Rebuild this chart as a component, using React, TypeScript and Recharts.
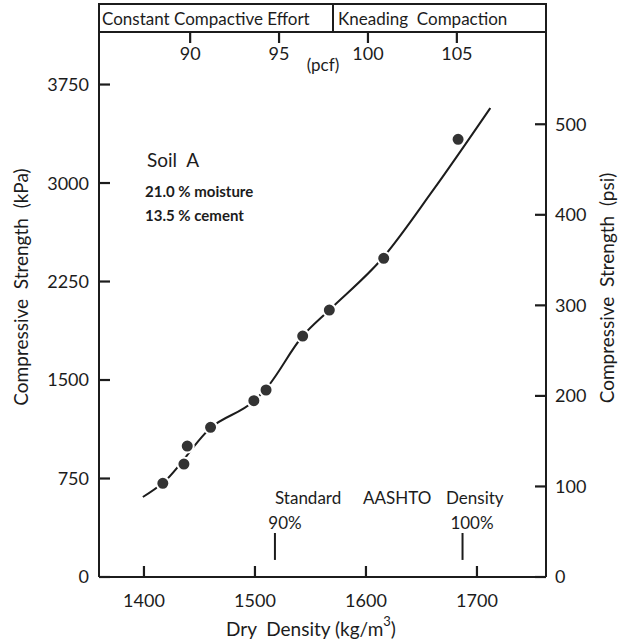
import React from 'react';
import { ComposedChart, Line, Scatter, XAxis, YAxis, ReferenceLine, Customized } from 'recharts';

// measured points (dry density kg/m3, compressive strength kPa)
const densityKg = [1417, 1436, 1439, 1460, 1499, 1510, 1543, 1567, 1616, 1683];
const strengthKpa = [713, 860, 997, 1140, 1343, 1424, 1835, 2033, 2427, 3333];

// hand drawn trend curve
const curveDensity = [1399, 1417, 1460, 1499, 1509, 1543, 1567, 1615, 1660, 1712];
const curveStrength = [609, 716, 1135, 1340, 1424, 1835, 2033, 2429, 2940, 3571];

const kgTicks = [1400, 1500, 1600, 1700];
const pcfTicks = [90, 95, 100, 105];
const kpaTicks = [0, 750, 1500, 2250, 3000, 3750];
const psiTicks = [0, 100, 200, 300, 400, 500];

// standard AASHTO density marks
const aashtoDensity = [1518, 1687];
const aashtoLabels = ['90%', '100%'];

const KG_PER_PCF = 16.018;
const KPA_PER_PSI = 6.895;
const kgDomain = [1359.5, 1762.2];
const kpaDomain = [0, 4150];
const pcfDomain = kgDomain.map(v => v / KG_PER_PCF);
const psiDomain = kpaDomain.map(v => v / KPA_PER_PSI);

// inward tick length, turned into data units (plot is 447 x 545 px)
const TICK = 11;
const tickKg = TICK * (kgDomain[1] - kgDomain[0]) / 447;
const tickKpa = TICK * (kpaDomain[1] - kpaDomain[0]) / 545;
const tickPsi = tickKpa / KPA_PER_PSI;

const points = densityKg.map((x, i) => ({ x, y: strengthKpa[i] }));
const curve = curveDensity.map((x, i) => ({ x, y: curveStrength[i] }));

const FONT = 'Lato, "Open Sans", sans-serif';
const INK = '#1c1c1c';
const txt = { fontFamily: FONT, fill: INK };

const leftTick = ({ x, y, payload }: any) => (
    <text x={x} y={y} dy="0.36em" textAnchor="end" fontSize={18} {...txt}>{payload.value}</text>
);
const rightTick = ({ x, y, payload }: any) => (
    <text x={x} y={y} dy="0.36em" textAnchor="start" fontSize={18} {...txt}>{payload.value}</text>
);
const bottomTick = ({ x, y, payload }: any) => (
    <text x={x} y={y + 16} textAnchor="middle" fontSize={18} {...txt}>{payload.value}</text>
);
const topTick = ({ x, y, payload }: any) => (
    <text x={x} y={y + 28} textAnchor="middle" fontSize={18} {...txt}>{payload.value}</text>
);

const dot = ({ cx, cy }: any) => (
    <circle cx={cx} cy={cy} r={6.5} fill="#333" stroke="#fff" strokeWidth={2} />
);

const Annotations = () => (
    <g>
        {/* header box */}
        <rect x={99} y={4} width={447} height={28} fill="none" stroke={INK} strokeWidth={2} />
        <line x1={333} x2={333} y1={4} y2={32} stroke={INK} strokeWidth={2} />
        <text x={102} y={25} fontSize={17} {...txt}>Constant Compactive Effort</text>
        <text x={338} y={25} fontSize={17} {...txt} style={{ whiteSpace: 'pre' }}>Kneading  Compaction</text>
        <text x={323} y={71} textAnchor="middle" fontSize={17} {...txt}>(pcf)</text>

        {/* soil block */}
        <text x={147} y={167} fontSize={19} {...txt} style={{ whiteSpace: 'pre' }}>Soil  A</text>
        <text x={145} y={197} fontSize={15} fontWeight={700} {...txt}>21.0 % moisture</text>
        <text x={145} y={221} fontSize={15} fontWeight={700} {...txt}>13.5 % cement</text>

        {/* AASHTO */}
        <text x={275} y={504} fontSize={17} {...txt}>Standard</text>
        <text x={363} y={504} fontSize={17} {...txt}>AASHTO</text>
        <text x={446} y={504} fontSize={17} {...txt}>Density</text>
        <text x={285} y={529} textAnchor="middle" fontSize={17} {...txt}>{aashtoLabels[0]}</text>
        <text x={472} y={529} textAnchor="middle" fontSize={17} {...txt}>{aashtoLabels[1]}</text>

        {/* axis titles */}
        <text x={311} y={636} textAnchor="middle" fontSize={19} {...txt} style={{ whiteSpace: 'pre' }}>
            Dry  Density (kg/m<tspan dy={-10} fontSize={13}>3</tspan><tspan dy={10}>)</tspan>
        </text>
        <text transform="translate(28,287) rotate(-90)" textAnchor="middle" fontSize={19} {...txt} style={{ whiteSpace: 'pre' }}>
            Compressive  Strength  (kPa)
        </text>
        <text transform="translate(614,288) rotate(-90)" textAnchor="middle" fontSize={19} {...txt} style={{ whiteSpace: 'pre' }}>
            Compressive  Strength  (psi)
        </text>
    </g>
);

const tickStyle = { stroke: INK, strokeWidth: 2.2, ifOverflow: 'visible' as const };

export default function App() {
    return (
        <div style={{ position: 'absolute', left: 0, top: 0, width: 630, height: 642, background: '#fff' }}>
            <ComposedChart width={630} height={642} margin={{ top: 2, right: 0, bottom: 0, left: 0 }}>
                <XAxis xAxisId="kg" dataKey="x" type="number" orientation="bottom" domain={kgDomain} ticks={kgTicks}
                    allowDataOverflow interval={0} height={65} tickSize={0} tickMargin={14}
                    axisLine={{ stroke: INK, strokeWidth: 2 }} tickLine={false} tick={bottomTick} />
                <XAxis xAxisId="pcf" dataKey="x" type="number" orientation="top" domain={pcfDomain} ticks={pcfTicks}
                    allowDataOverflow interval={0} height={30} tickSize={0} tickMargin={0}
                    axisLine={{ stroke: INK, strokeWidth: 2 }} tickLine={false} tick={topTick} />
                <YAxis yAxisId="kpa" dataKey="y" type="number" orientation="left" domain={kpaDomain} ticks={kpaTicks}
                    allowDataOverflow interval={0} width={99} tickSize={0} tickMargin={10}
                    axisLine={{ stroke: INK, strokeWidth: 2 }} tickLine={false} tick={leftTick} />
                <YAxis yAxisId="psi" type="number" orientation="right" domain={psiDomain} ticks={psiTicks}
                    allowDataOverflow interval={0} width={84} tickSize={0} tickMargin={9}
                    axisLine={{ stroke: INK, strokeWidth: 2 }} tickLine={false} tick={rightTick} />

                {/* inward tick marks */}
                {kgTicks.map(t => (
                    <ReferenceLine key={`b${t}`} xAxisId="kg" yAxisId="kpa" {...tickStyle}
                        segment={[{ x: t, y: kpaDomain[0] }, { x: t, y: kpaDomain[0] + tickKpa }]} />
                ))}
                {pcfTicks.map(t => (
                    <ReferenceLine key={`t${t}`} xAxisId="pcf" yAxisId="kpa" {...tickStyle}
                        segment={[{ x: t, y: kpaDomain[1] }, { x: t, y: kpaDomain[1] - tickKpa }]} />
                ))}
                {kpaTicks.map(t => (
                    <ReferenceLine key={`l${t}`} xAxisId="kg" yAxisId="kpa" {...tickStyle}
                        segment={[{ x: kgDomain[0], y: t }, { x: kgDomain[0] + tickKg, y: t }]} />
                ))}
                {psiTicks.map(t => (
                    <ReferenceLine key={`r${t}`} xAxisId="kg" yAxisId="psi" {...tickStyle}
                        segment={[{ x: kgDomain[1], y: t }, { x: kgDomain[1] - tickKg, y: t }]} />
                ))}

                {aashtoDensity.map((d, i) => (
                    <ReferenceLine key={i} xAxisId="kg" yAxisId="kpa" segment={[{ x: d, y: 130 }, { x: d, y: 335 }]}
                        stroke={INK} strokeWidth={2} ifOverflow="visible" />
                ))}

                <Line xAxisId="kg" yAxisId="kpa" data={curve} dataKey="y" type="monotone" dot={false}
                    stroke={INK} strokeWidth={2} isAnimationActive={false} />
                <Scatter xAxisId="kg" yAxisId="kpa" data={points} dataKey="y" shape={dot} isAnimationActive={false} />

                <Customized component={Annotations} />
            </ComposedChart>
        </div>
    );
}
